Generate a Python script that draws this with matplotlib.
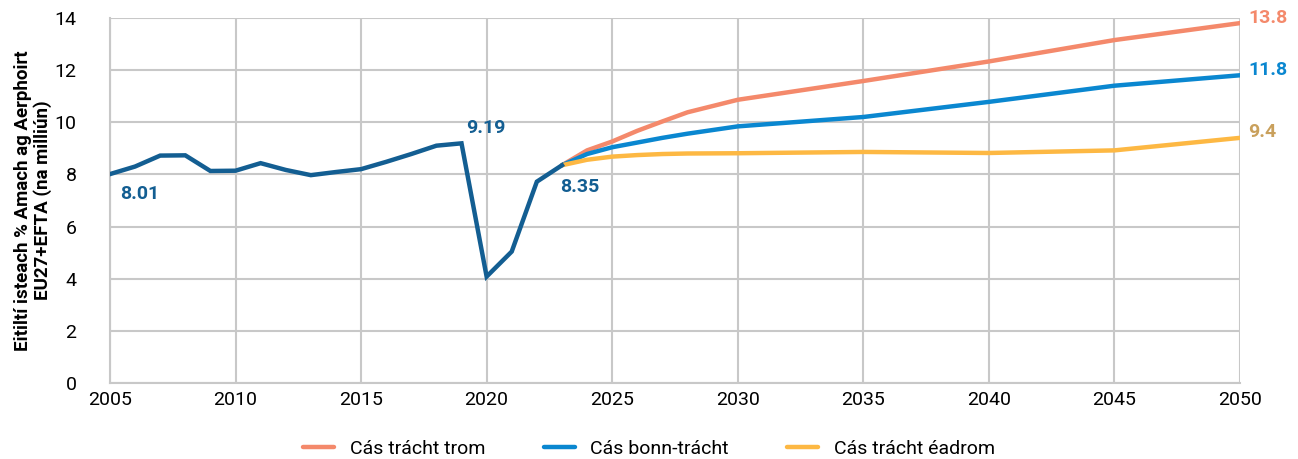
import matplotlib.pyplot as plt

# historical series (2005-2023)
hist_years = list(range(2005, 2024))
hist_values = [8.01, 8.30, 8.72, 8.73, 8.13, 8.14, 8.43, 8.17, 7.97, 8.09, 8.20,
               8.48, 8.78, 9.10, 9.19, 4.08, 5.04, 7.72, 8.35]

# scenarios (2023-2050)
proj_years = [2023, 2024, 2025, 2026, 2027, 2028, 2030, 2035, 2040, 2045, 2050]
heavy = [8.35, 8.92, 9.26, 9.67, 10.03, 10.38, 10.86, 11.58, 12.33, 13.15, 13.8]
base = [8.35, 8.78, 9.04, 9.22, 9.40, 9.56, 9.84, 10.20, 10.78, 11.40, 11.8]
light = [8.35, 8.56, 8.68, 8.74, 8.78, 8.80, 8.81, 8.86, 8.82, 8.92, 9.4]

scenario_labels = ['Cás trácht trom', 'Cás bonn-trácht', 'Cás trácht éadrom']
scenario_colors = ['#F4896B', '#0A87D0', '#FDB843']
end_label_colors = ['#F4896B', '#0A87D0', '#C9A05C']
hist_color = '#135E92'

plt.rcParams['font.family'] = ['Roboto', 'DejaVu Sans']

fig = plt.figure(figsize=(12.98, 4.59), dpi=100)
ax = fig.add_axes([0.0847, 0.1656, 0.8706, 0.7954])

for vals, lab, col in zip([heavy, base, light], scenario_labels, scenario_colors):
    ax.plot(proj_years, vals, color=col, lw=3.2, label=lab, solid_capstyle='round', zorder=3)
ax.plot(hist_years, hist_values, color=hist_color, lw=3.2, solid_joinstyle='miter', zorder=4)

# annotations
lbl = dict(fontsize=14, fontweight='bold', va='center', ha='left')
ax.annotate('8.01', (2005, hist_values[0]), xytext=(7, -14), textcoords='offset points',
            color=hist_color, **lbl)
ax.annotate('9.19', (2019, hist_values[14]), xytext=(3, 11), textcoords='offset points',
            color=hist_color, **lbl)
ax.annotate('8.35', (2023, hist_values[-1]), xytext=(-1, -16), textcoords='offset points',
            color=hist_color, **lbl)
for vals, col in zip([heavy, base, light], end_label_colors):
    ax.annotate(f'{vals[-1]:g}', (2050, vals[-1]), xytext=(6, 4), textcoords='offset points',
                color=col, annotation_clip=False, **lbl)

ax.set_xlim(2005, 2050)
ax.set_ylim(0, 14)
ax.set_xticks(range(2005, 2051, 5))
ax.set_yticks(range(0, 15, 2))
ax.grid(True, color='#C8C8C8', lw=1.5)
ax.set_axisbelow(True)
for s in ['top', 'right']:
    ax.spines[s].set_visible(False)
for s in ['left', 'bottom']:
    ax.spines[s].set_color('#C8C8C8')
    ax.spines[s].set_linewidth(1.5)
ax.tick_params(length=0, labelsize=14, pad=6)
ax.tick_params(axis='y', pad=24)

ax.set_ylabel('Eitiltí isteach % Amach ag Aerphoirt\nEU27+EFTA (na milliún)',
              fontsize=13.5, fontweight='bold', labelpad=2, linespacing=1.1)

fig.legend(loc='lower center', bbox_to_anchor=(0.5, -0.035), ncol=3, frameon=False,
           fontsize=14, handlelength=1.6, columnspacing=3.0, handletextpad=0.8)

fig.savefig('out.png', dpi=100)
